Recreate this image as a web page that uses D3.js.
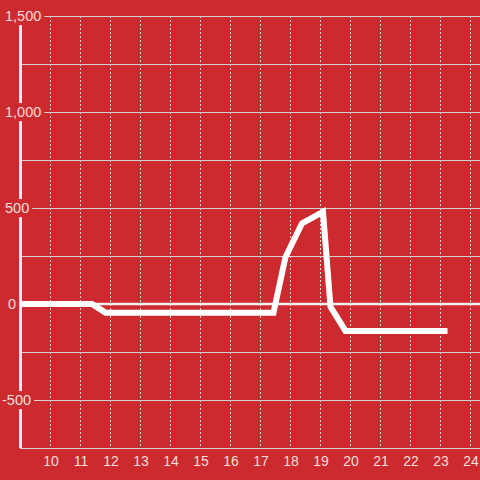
<!DOCTYPE html>
<html>
<head>
<meta charset="utf-8">
<script src="https://cdn.jsdelivr.net/npm/d3@7"></script>
<style>
  html, body { margin: 0; padding: 0; background: #cd2a2f; }
  svg { display: block; font-family: "Liberation Sans", Arial, sans-serif; }
</style>
</head>
<body>
<div id="chart"></div>
<script>
// data
const hours = [9.0, 11.4, 11.85, 17.45, 17.85, 18.4, 19.1, 19.35, 19.85, 23.25];
const values = [0, 0, -45, -45, 245, 420, 480, -15, -140, -140];
const xTicks = [10, 11, 12, 13, 14, 15, 16, 17, 18, 19, 20, 21, 22, 23, 24];
const yGrid = [-500, -250, 250, 500, 750, 1000, 1250, 1500];
const yLabels = [-500, 0, 500, 1000, 1500];

const width = 480, height = 480;
const bg = "#cd2a2f";

const svg = d3.select("#chart")
  .append("svg")
    .attr("width", width)
    .attr("height", height);

svg.append("rect")
  .attr("width", width)
  .attr("height", height)
  .attr("fill", bg);

// scales
const x = d3.scaleLinear()
  .domain([9, 24.333])
  .range([20, 480]);

const y = d3.scaleLinear()
  .domain([-750, 1500])
  .range([448, 16]);

// vertical dashed grid
svg.append("g")
  .selectAll("line")
  .data(xTicks)
  .join("line")
    .attr("x1", d => Math.round(x(d)) + 0.5)
    .attr("x2", d => Math.round(x(d)) + 0.5)
    .attr("y1", y(1500))
    .attr("y2", y(-750))
    .attr("stroke", "#dcdcdc")
    .attr("stroke-width", 1)
    .attr("stroke-dasharray", "2,2");

// horizontal grid
svg.append("g")
  .selectAll("line")
  .data(yGrid)
  .join("line")
    .attr("x1", 20)
    .attr("x2", width)
    .attr("y1", d => Math.round(y(d)) + 0.5)
    .attr("y2", d => Math.round(y(d)) + 0.5)
    .attr("stroke", "#d2d2d2")
    .attr("stroke-width", 1);

// x axis baseline
svg.append("line")
  .attr("x1", 20).attr("x2", width)
  .attr("y1", y(-750) + 0.5).attr("y2", y(-750) + 0.5)
  .attr("stroke", "#d2d2d2");

// zero line
svg.append("line")
  .attr("x1", 18).attr("x2", width)
  .attr("y1", y(0)).attr("y2", y(0))
  .attr("stroke", "#f4f0f0")
  .attr("stroke-width", 2.5);

// y axis line
svg.append("line")
  .attr("x1", 20.5).attr("x2", 20.5)
  .attr("y1", y(1500)).attr("y2", y(-750))
  .attr("stroke", "#f1eeee")
  .attr("stroke-width", 3);

// y labels with background boxes
const yl = svg.append("g")
  .selectAll("g")
  .data(yLabels)
  .join("g");

yl.append("text")
  .attr("x", d => d === 0 ? 8 : (d < 0 ? 2 : 5))
  .attr("y", d => y(d))
  .attr("dy", "0.35em")
  .attr("fill", "#f5dede")
  .style("font-size", "14.5px")
  .text(d => d3.format(",")(d).replace("\u2212", "-"));

yl.each(function() {
  const g = d3.select(this);
  const b = g.select("text").node().getBBox();
  g.insert("rect", "text")
    .attr("x", b.x - 3)
    .attr("y", b.y - 1)
    .attr("width", b.width + 6)
    .attr("height", b.height + 2)
    .attr("fill", bg);
});

// x labels
svg.append("g")
  .selectAll("text")
  .data(xTicks)
  .join("text")
    .attr("x", d => x(d) + 1)
    .attr("y", 461)
    .attr("dy", "0.35em")
    .attr("text-anchor", "middle")
    .attr("fill", "#f5dede")
    .style("font-size", "14px")
    .text(d => d);

// data line
const line = d3.line()
  .x((d, i) => x(hours[i]))
  .y(d => y(d));

svg.append("path")
  .datum(values)
  .attr("d", line)
  .attr("fill", "none")
  .attr("stroke", "#ffffff")
  .attr("stroke-width", 6);
</script>
</body>
</html>
